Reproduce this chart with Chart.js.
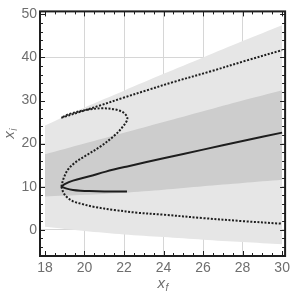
<!DOCTYPE html>
<html>
<head>
<meta charset="utf-8">
<script src="https://cdn.jsdelivr.net/npm/chart.js@4/dist/chart.umd.min.js"></script>
<style>
  html, body { margin: 0; padding: 0; background: #fff; }
  canvas { display: block; }
</style>
</head>
<body>
<canvas id="chart" width="294" height="299"></canvas>
<script>
// ---- data ----
const X_TICKS = [18, 20, 22, 24, 26, 28, 30];
const Y_TICKS = [0, 10, 20, 30, 40, 50];

// shaded bands
const BAND_X    = [18, 20, 22, 24, 26, 28, 30];
const LIGHT_TOP = [24.2, 28.4, 32.3, 36.2, 40.0, 43.8, 47.5];
const DARK_TOP  = [17.5, 20.0, 22.5, 25.0, 27.5, 30.0, 32.4];
const DARK_BOT  = [7.7, 8.1, 8.6, 9.3, 10.1, 10.85, 11.6];
const LIGHT_BOT = [0.7, -0.3, -1.1, -1.7, -2.3, -2.85, -3.4];

// solid curve (two branches from the cusp)
const SOLID_LOW_X = [18.83, 19.1, 19.42, 19.8, 20.25, 21.0, 22.15];
const SOLID_LOW_Y = [10.0, 9.55, 9.25, 9.08, 8.98, 8.9, 8.85];
const SOLID_UP_X  = [18.83, 19.0, 19.42, 20.25, 21.08, 22.17, 24, 26, 28, 30];
const SOLID_UP_Y  = [10.0, 10.6, 11.4, 12.4, 13.5, 14.7, 16.6, 18.6, 20.6, 22.55];

// dotted curve pieces
const DOT_LOW_X = [18.83, 18.92, 19.08, 19.42, 19.9, 20.5, 21.5, 22.67, 24, 26, 28, 30];
const DOT_LOW_Y = [10.0, 8.8, 7.7, 6.6, 5.95, 5.3, 4.6, 3.95, 3.5, 2.7, 2.0, 1.4];
const DOT_S_X = [18.83, 18.95, 19.17, 19.5, 20.1, 20.8, 21.5, 21.95, 22.17, 22.0, 21.58, 20.9, 20.08, 19.25, 18.83];
const DOT_S_Y = [10.0, 12.0, 14.0, 15.5, 17.3, 19.3, 21.8, 24.0, 25.8, 27.1, 27.9, 28.2, 27.8, 26.9, 26.0];
const DOT_UP_X = [18.83, 20.0, 20.75, 22.0, 23.17, 24.5, 26.4, 28.2, 30];
const DOT_UP_Y = [26.0, 27.7, 28.8, 30.7, 32.4, 34.3, 36.8, 39.3, 41.7];

const pts = (xs, ys) => xs.map((x, i) => ({ x: x, y: ys[i] }));

const INK = '#1e1e1e';
const LABEL = '#6e6e6e';

function curve(xs, ys, dotted) {
    return {
        data: pts(xs, ys),
        borderColor: INK,
        borderWidth: 2,
        borderDash: dotted ? [2, 1.6] : [],
        pointRadius: 0,
        tension: 0.35,
        fill: false,
        order: 0
    };
}

function band(ys, fill, color, order) {
    return {
        data: pts(BAND_X, ys),
        borderColor: 'transparent',
        borderWidth: 0,
        backgroundColor: color,
        pointRadius: 0,
        tension: 0.3,
        fill: fill,
        order: order
    };
}

// frame with inward ticks on all sides, plus axis titles
const framePlugin = {
    id: 'frame',
    afterDraw(chart) {
        const { ctx, chartArea: a, scales } = chart;
        const sx = scales.x, sy = scales.y;
        ctx.save();
        ctx.strokeStyle = INK;
        ctx.lineWidth = 1;
        ctx.beginPath();
        for (let v = 18; v <= 30.001; v += 0.5) {
            const px = Math.round(sx.getPixelForValue(v)) + 0.5;
            const len = (Math.abs(v % 2) < 1e-6) ? 5 : 3;
            ctx.moveTo(px, a.bottom); ctx.lineTo(px, a.bottom - len);
            ctx.moveTo(px, a.top); ctx.lineTo(px, a.top + len);
        }
        for (let v = -6; v <= 50.001; v += 2) {
            const py = Math.round(sy.getPixelForValue(v)) + 0.5;
            const len = (Math.abs(v % 10) < 1e-6) ? 5 : 3;
            ctx.moveTo(a.left, py); ctx.lineTo(a.left + len, py);
            ctx.moveTo(a.right, py); ctx.lineTo(a.right - len, py);
        }
        ctx.stroke();

        ctx.lineWidth = 2;
        ctx.strokeRect(a.left, a.top, a.right - a.left, a.bottom - a.top);

        // axis titles
        ctx.fillStyle = LABEL;
        ctx.textBaseline = 'alphabetic';
        ctx.font = 'italic 15px "Liberation Sans", Arial, sans-serif';
        const cx = (a.left + a.right) / 2;
        ctx.textAlign = 'left';
        ctx.fillText('x', cx - 5, 288);
        ctx.font = 'italic 10px "Liberation Sans", Arial, sans-serif';
        ctx.fillText('f', cx + 3, 291);

        ctx.translate(14, (a.top + a.bottom) / 2 + 5);
        ctx.rotate(-Math.PI / 2);
        ctx.font = 'italic 15px "Liberation Sans", Arial, sans-serif';
        ctx.fillText('x', 0, 0);
        ctx.font = 'italic 10px "Liberation Sans", Arial, sans-serif';
        ctx.fillText('i', 8, 3);
        ctx.restore();
    }
};

const tickFont = { family: '"Liberation Sans", Arial, sans-serif', size: 14 };
const hiddenGrid = [18, 30, 50];

new Chart(document.getElementById('chart'), {
    type: 'line',
    data: {
        datasets: [
            curve(SOLID_LOW_X, SOLID_LOW_Y, false),
            curve(SOLID_UP_X, SOLID_UP_Y, false),
            curve(DOT_LOW_X, DOT_LOW_Y, true),
            curve(DOT_S_X, DOT_S_Y, true),
            curve(DOT_UP_X, DOT_UP_Y, true),
            band(DARK_TOP, '+1', '#cdcdcd', 1),
            band(DARK_BOT, false, '#cdcdcd', 1),
            band(LIGHT_TOP, '+1', '#e6e6e6', 2),
            band(LIGHT_BOT, false, '#e6e6e6', 2)
        ]
    },
    options: {
        responsive: false,
        animation: false,
        layout: { padding: { top: 5, right: 6, left: 0, bottom: 0 } },
        plugins: { legend: { display: false }, tooltip: { enabled: false } },
        scales: {
            x: {
                type: 'linear',
                min: 17.75,
                max: 30.15,
                afterBuildTicks: s => { s.ticks = X_TICKS.map(v => ({ value: v })); },
                afterFit: s => { s.height = 43; },
                border: { display: false },
                grid: {
                    drawTicks: false,
                    color: c => hiddenGrid.includes(c.tick && c.tick.value) ? 'transparent' : '#d6d6d6'
                },
                ticks: { font: tickFont, color: LABEL, padding: 4, maxRotation: 0 }
            },
            y: {
                type: 'linear',
                min: -6.1,
                max: 50.7,
                afterBuildTicks: s => { s.ticks = Y_TICKS.map(v => ({ value: v })); },
                afterFit: s => { s.width = 40; },
                border: { display: false },
                grid: {
                    drawTicks: false,
                    color: c => hiddenGrid.includes(c.tick && c.tick.value) ? 'transparent' : '#d6d6d6'
                },
                ticks: { font: tickFont, color: LABEL, padding: 3 }
            }
        }
    },
    plugins: [framePlugin]
});
</script>
</body>
</html>
